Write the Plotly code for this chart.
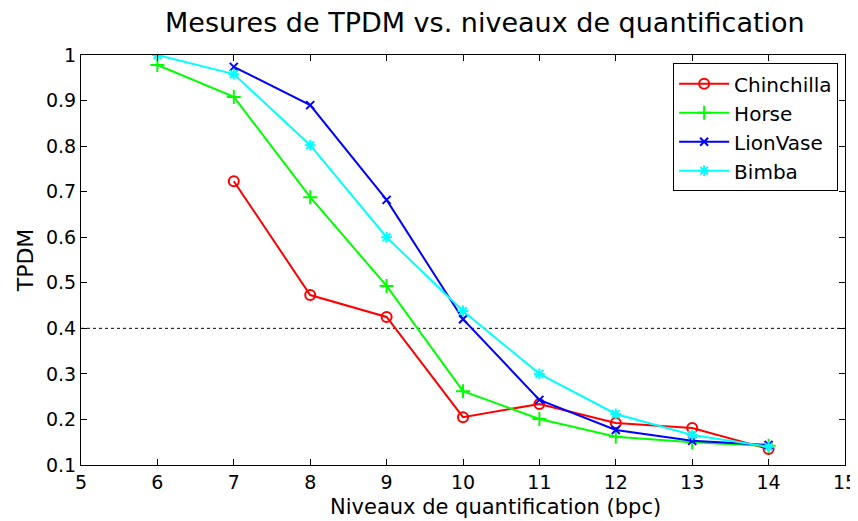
import plotly.graph_objects as go

chinchilla_x = [7, 8, 9, 10, 11, 12, 13, 14]
chinchilla = [0.723, 0.473, 0.425, 0.205, 0.234, 0.192, 0.181, 0.135]
horse_x = [6, 7, 8, 9, 10, 11, 12, 13, 14]
horse = [0.978, 0.908, 0.688, 0.493, 0.262, 0.201, 0.162, 0.150, 0.142]
lionvase_x = [7, 8, 9, 10, 11, 12, 13, 14]
lionvase = [0.974, 0.890, 0.682, 0.420, 0.243, 0.177, 0.153, 0.144]
bimba_x = [6, 7, 8, 9, 10, 11, 12, 13, 14]
bimba = [1.0, 0.958, 0.802, 0.600, 0.438, 0.300, 0.212, 0.166, 0.140]
threshold = 0.4

x_ticks = [5, 6, 7, 8, 9, 10, 11, 12, 13, 14, 15]
y_ticks = [0.1, 0.2, 0.3, 0.4, 0.5, 0.6, 0.7, 0.8, 0.9, 1.0]
y_tick_labels = ["0.1", "0.2", "0.3", "0.4", "0.5", "0.6", "0.7", "0.8", "0.9", "1"]

FONT = "DejaVu Sans, sans-serif"

fig = go.Figure()
fig.add_trace(go.Scatter(x=[5, 15], y=[threshold, threshold], mode="lines",
                         line=dict(color="black", width=1, dash="dot"),
                         showlegend=False, hoverinfo="skip"))
series = [
    ("Chinchilla", chinchilla_x, chinchilla, "#ff0000", "circle-open", 10),
    ("Horse", horse_x, horse, "#00ff00", "cross-thin-open", 10),
    ("LionVase", lionvase_x, lionvase, "#0000ff", "x-thin-open", 8),
    ("Bimba", bimba_x, bimba, "#00ffff", "asterisk-open", 9),
]
for name, xs, ys, col, sym, sz in series:
    fig.add_trace(go.Scatter(x=xs, y=ys, mode="lines+markers", name=name,
                             line=dict(color=col, width=2),
                             marker=dict(symbol=sym, size=sz, color=col,
                                         line=dict(color=col, width=2))))

axis_common = dict(showline=True, linecolor="black", linewidth=1, mirror="ticks",
                   ticks="inside", ticklen=6, tickcolor="black", showgrid=False,
                   zeroline=False, automargin=False, ticklabelstandoff=0,
                   tickfont=dict(size=19, color="black", family=FONT))
fig.update_xaxes(range=[5, 15], tickvals=x_ticks, **axis_common)
fig.update_yaxes(range=[0.1, 1.0], tickvals=y_ticks, ticktext=y_tick_labels,
                 title=dict(text="TPDM", font=dict(size=22, family=FONT, color="black"), standoff=6),
                 **axis_common)

fig.add_annotation(text="Niveaux de quantification (bpc)", xref="paper", yref="paper",
                   x=0.543, y=-0.103, xanchor="center", yanchor="middle", showarrow=False,
                   font=dict(size=21, family=FONT, color="black"))

fig.update_layout(
    width=850, height=513,
    margin=dict(l=73, r=13, t=47, b=56),
    paper_bgcolor="white", plot_bgcolor="white",
    title=dict(text="Mesures de TPDM vs. niveaux de quantification", x=0.561, xanchor="center",
               y=0.972, yanchor="middle", font=dict(size=27, family=FONT, color="black")),
    legend=dict(x=0.991, y=0.98, xanchor="right", yanchor="top", bgcolor="white",
                bordercolor="black", borderwidth=1, font=dict(size=20, family=FONT, color="black"),
                tracegroupgap=0, itemwidth=50),
    font=dict(family=FONT),
)
fig.write_html("out.html")
